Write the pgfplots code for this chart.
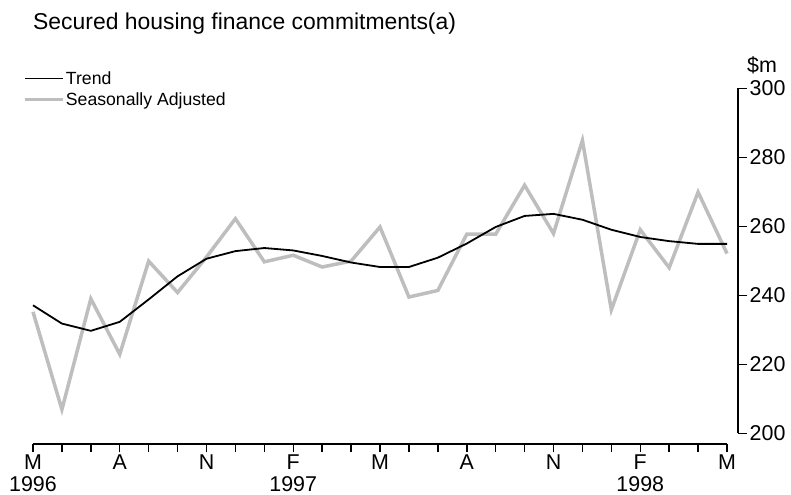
\documentclass[border=0pt]{standalone}
\usepackage{pgfplots}
\pgfplotsset{compat=1.18}
\usepackage{fontspec}
\setmainfont{Liberation Sans}
\definecolor{sagray}{RGB}{190,190,190}
\begin{document}
\begin{tikzpicture}
\begin{axis}[
    scale only axis,
    width=705bp, height=355.7bp,
    xmin=0, xmax=24.38, ymin=196.9, ymax=300,
    clip=false,
    axis x line*=bottom, axis y line*=right,
    axis line style={draw=none},
    xtick={0,3,...,24},
    minor x tick num=2,
    xticklabels={{M\\1996},A,N,{F\\1997},M,A,N,{F\\1998},M},
    ytick={200,220,...,300},
    tick align=outside,
    major tick length=8.5bp, minor tick length=8.5bp,
    every tick/.style={black, line width=1.5bp},
    tick label style={font=\fontsize{21.5}{22}\selectfont},
    xticklabel style={align=center, inner sep=2bp},
    yticklabel style={inner sep=1bp, xshift=2bp},
    /pgf/number format/assume math mode=true,
    reverse legend,
    legend style={at={(rel axis cs:-0.0138,1.052)}, anchor=north west,
                  draw=none, fill=none, inner sep=0pt, row sep=4bp,
                  font=\fontsize{17.7}{19}\selectfont,
                  nodes={inner sep=1bp, text height=14bp, text depth=1bp},
                  cells={anchor=west}},
    legend image code/.code={\draw[#1] (0bp,0bp) -- (38bp,0bp);},
  ]
% seasonally adjusted
\addplot[sagray, line width=3.5bp] coordinates {
  (0,235.2) (1,206.9) (2,239.0) (3,222.9) (4,249.9) (5,240.8) (6,251.1)
  (7,262.2) (8,249.7) (9,251.6) (10,248.2) (11,249.9) (12,259.8) (13,239.5)
  (14,241.4) (15,257.7) (16,257.7) (17,271.9) (18,257.9) (19,284.9)
  (20,235.8) (21,259.0) (22,248.0) (23,269.9) (24,252.1)};
\addlegendentry{Seasonally Adjusted}
% trend
\addplot[black, line width=1.8bp] coordinates {
  (0,237.1) (1,231.8) (2,229.7) (3,232.3) (4,238.8) (5,245.5) (6,250.6)
  (7,252.8) (8,253.7) (9,253.0) (10,251.4) (11,249.5) (12,248.2) (13,248.2)
  (14,250.9) (15,255.0) (16,259.8) (17,263.0) (18,263.6) (19,261.9)
  (20,259.0) (21,256.9) (22,255.7) (23,254.9) (24,254.9)};
\addlegendentry{Trend}
% axis lines
\draw[line width=1.8bp] (axis cs:0,196.9) -- (axis cs:24,196.9);
\draw[line width=1.8bp] (axis cs:24.38,200) -- (axis cs:24.38,300);
\node[anchor=base west, inner sep=0pt, font=\fontsize{21.5}{22}\selectfont]
  at (axis cs:24.69,304.72) {\$m};
\node[anchor=base west, inner sep=0pt, font=\fontsize{23}{25}\selectfont]
  at (axis cs:0,317.04) {Secured housing finance commitments(a)};
\path (axis cs:-1.141,182.12) rectangle (axis cs:26.213,325.59);
\end{axis}
\end{tikzpicture}
\end{document}
